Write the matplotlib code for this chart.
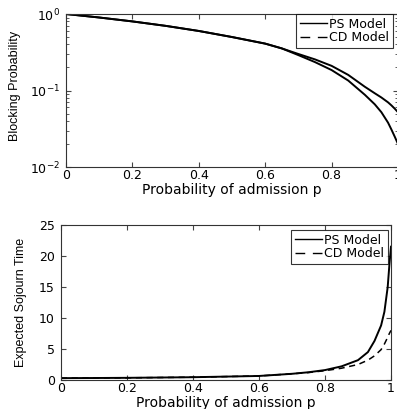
import matplotlib
matplotlib.use("Agg")
import matplotlib.pyplot as plt
from matplotlib.lines import Line2D

plt.rcParams['font.family'] = ['DejaVu Sans']
plt.rcParams['mathtext.fontset'] = 'dejavusans'

# Top panel: blocking probability
p_block = [0, 0.1, 0.2, 0.3, 0.4, 0.5, 0.6, 0.65, 0.7, 0.75, 0.8, 0.85, 0.9, 0.93, 0.95, 0.97, 0.98, 0.99, 1.0]
block_ps = [1.0, 0.9, 0.8, 0.7, 0.6, 0.5, 0.41, 0.355, 0.30, 0.255, 0.21, 0.16, 0.112, 0.092, 0.081, 0.070, 0.064, 0.058, 0.052]
block_cd = [1.0, 0.9, 0.8, 0.7, 0.6, 0.5, 0.41, 0.355, 0.29, 0.235, 0.185, 0.135, 0.088, 0.066, 0.052, 0.038, 0.031, 0.025, 0.020]

# Bottom panel: expected sojourn time
p_soj = [0, 0.1, 0.2, 0.3, 0.4, 0.5, 0.6, 0.7, 0.75, 0.8, 0.85, 0.9, 0.93, 0.95, 0.97, 0.98, 0.99, 0.995, 1.0]
soj_ps = [0.3, 0.32, 0.35, 0.4, 0.45, 0.55, 0.65, 1.0, 1.25, 1.6, 2.2, 3.2, 4.5, 6.3, 8.8, 11.0, 15.0, 18.5, 21.5]
soj_cd = [0.3, 0.32, 0.35, 0.4, 0.45, 0.55, 0.65, 1.0, 1.2, 1.5, 1.9, 2.5, 3.2, 3.9, 4.9, 5.8, 6.9, 7.5, 8.0]

labels = ["PS Model", "CD Model"]
xticks = [0, 0.2, 0.4, 0.6, 0.8, 1]
xticklabels = ["0", "0.2", "0.4", "0.6", "0.8", "1"]

W, H = 397, 409
fig = plt.figure(figsize=(W / 100, H / 100), dpi=100)

def px_axes(l, r, t, b):
    return fig.add_axes([l / W, (H - b) / H, (r - l) / W, (b - t) / H])

ax1 = px_axes(66, 398, 14, 167)
ax2 = px_axes(61, 391, 225, 380)

for ax in (ax1, ax2):
    ax.tick_params(which='both', direction='in', top=True, right=True, labelsize=9,
                   color='#444444')
    ax.tick_params(axis='x', which='both', pad=1.5)
    ax.tick_params(axis='y', which='both', pad=4.5)
    ax.tick_params(which='major', length=3.5)
    ax.tick_params(which='minor', length=2)
    for s in ax.spines.values():
        s.set_color('#333333')
        s.set_linewidth(0.8)
    ax.set_xlim(0, 1)
    ax.set_xticks(xticks)
    ax.set_xticklabels(xticklabels)
    ax.set_xlabel("Probability of admission p", fontsize=10, labelpad=0.5)

ax1.plot(p_block, block_ps, color='black', lw=1.4, linestyle='-')
ax1.plot(p_block, block_cd, color='black', lw=1.4, linestyle='-')
ax1.set_yscale('log')
ax1.set_ylim(1e-2, 1)
ax1.set_yticks([1e-2, 1e-1, 1])
ax1.set_yticklabels([r'$10^{-2}$', r'$10^{-1}$', r'$10^{0}$'])
ax1.set_ylabel("Blocking Probability", fontsize=9, family=['Liberation Sans'])
ax1.yaxis.set_label_coords(-0.135, 0.53)

ax2.plot(p_soj, soj_ps, color='black', lw=1.4, linestyle='-')
ax2.plot(p_soj, soj_cd, color='black', lw=1.1, linestyle=(0, (4, 3)))
ax2.set_ylim(0, 25)
ax2.set_yticks([0, 5, 10, 15, 20, 25])
ax2.set_ylabel("Expected Sojourn Time", fontsize=9, family=['Liberation Sans'])
ax2.yaxis.set_label_coords(-0.103, 0.5)

handles = [Line2D([], [], color='black', lw=1.0, linestyle='-'),
           Line2D([], [], color='black', lw=1.0, linestyle=(0, (7, 5.5)))]
anchors = [(ax1, (0.985, 1.0)), (ax2, (0.991, 0.968))]
for ax, anc in anchors:
    leg = ax.legend(handles, labels, loc='upper right', bbox_to_anchor=anc, fontsize=9,
                    frameon=True, fancybox=False, edgecolor='black', handlelength=2.2,
                    handletextpad=0.15, borderpad=0.3, labelspacing=0.05, borderaxespad=0)
    leg.get_frame().set_linewidth(0.8)

fig.savefig("out.png", dpi=100)
